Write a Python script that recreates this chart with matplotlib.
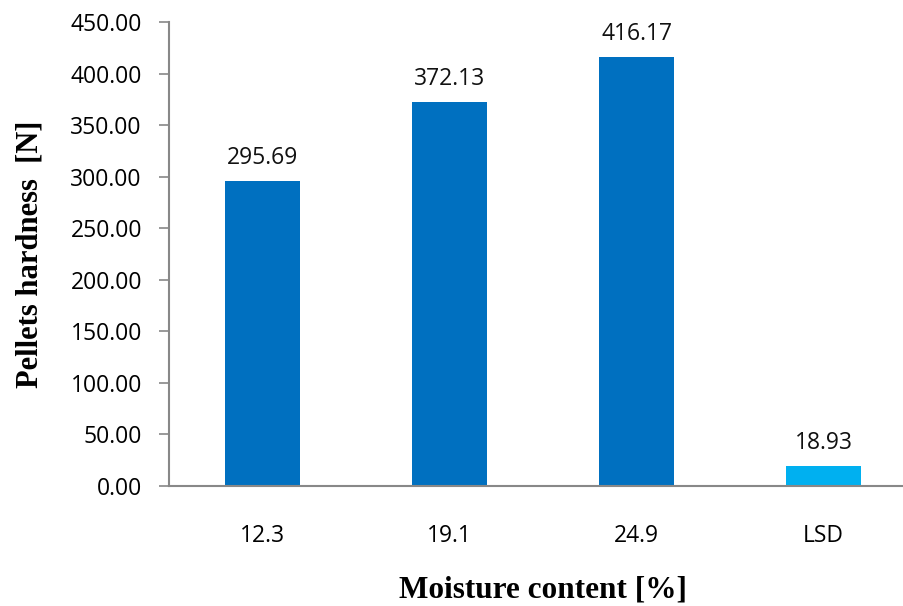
import matplotlib.pyplot as plt

categories = ['12.3', '19.1', '24.9', 'LSD']
hardness = [295.69, 372.13, 416.17, 18.93]
colors = ['#0070C0', '#0070C0', '#0070C0', '#00B0F0']
yticks = [0, 50, 100, 150, 200, 250, 300, 350, 400, 450]

fig = plt.figure(figsize=(9.04, 6.06), dpi=100)
ax = fig.add_axes([169 / 904, 120 / 606, 748 / 904, 464 / 606])

x = range(len(categories))
bars = ax.bar(x, hardness, width=0.4, color=colors, zorder=2)
for xi, v in zip(x, hardness):
    ax.annotate(f'{v:.2f}', (xi, v), xytext=(0, 8), textcoords='offset points',
                ha='center', va='bottom', fontsize=16.5, family='Open Sans', color='#111111')

ax.set_xlim(-0.5, len(categories) - 0.5)
ax.set_ylim(0, 450)
ax.set_yticks(yticks)
ax.set_yticklabels([f'{t:.2f}' for t in yticks], family='Open Sans', fontsize=16.5)
ax.set_xticks(list(x))
ax.set_xticklabels(categories, family='Open Sans', fontsize=16.5)
ax.tick_params(axis='x', length=0, pad=27)
ax.tick_params(axis='y', length=7.5, width=1.2, color='#888888', pad=12)

for s in ['top', 'right']:
    ax.spines[s].set_visible(False)
for s in ['left', 'bottom']:
    ax.spines[s].set_color('#888888')
    ax.spines[s].set_linewidth(1.5)

ax.set_xlabel('Moisture content [%]', family='Liberation Serif', fontweight='bold',
              fontsize=22.5, labelpad=20)
ax.set_ylabel('Pellets hardness  [N]', family='Liberation Serif', fontweight='bold',
              fontsize=22, labelpad=19)

fig.savefig('out.png', dpi=100)
